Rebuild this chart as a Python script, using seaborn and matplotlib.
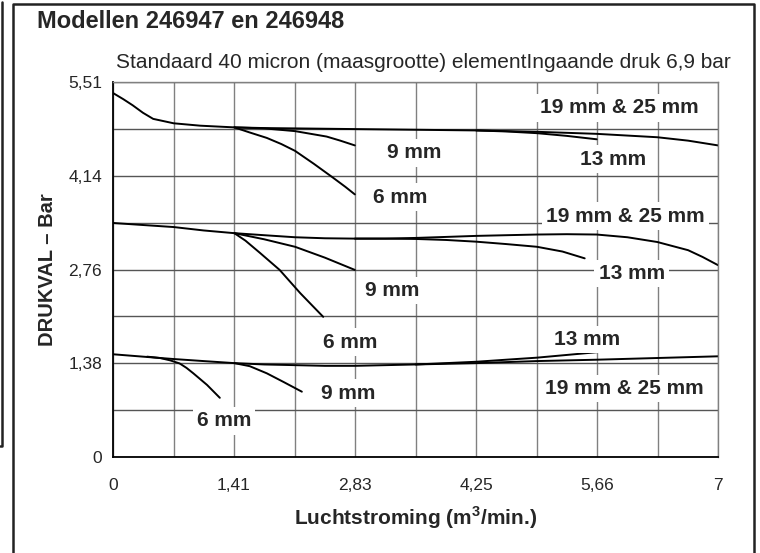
import matplotlib
matplotlib.use("Agg")
import matplotlib.pyplot as plt
import seaborn as sns
import pandas as pd
from matplotlib.lines import Line2D

# luchtstroming (m3/min) en drukval (bar), afgelezen uit de grafiek
# bovenste groep
boven_19_25_x = [0, 0.12, 0.23, 0.35, 0.47, 0.71, 1.02, 1.42, 1.77, 2.13, 2.83, 3.54, 4.25, 4.96, 5.66, 6.37, 6.73, 7.08]
boven_19_25_y = [5.35, 5.26, 5.17, 5.06, 4.97, 4.905, 4.87, 4.845, 4.835, 4.83, 4.82, 4.81, 4.80, 4.78, 4.75, 4.70, 4.65, 4.58]
boven_13_x = [4.25, 4.60, 4.96, 5.31, 5.66]
boven_13_y = [4.80, 4.785, 4.76, 4.72, 4.67]
boven_9_x = [1.42, 1.77, 2.13, 2.50, 2.66, 2.83]
boven_9_y = [4.845, 4.83, 4.79, 4.71, 4.65, 4.58]
boven_6_x = [1.42, 1.60, 1.80, 1.97, 2.13, 2.35, 2.57, 2.72, 2.83]
boven_6_y = [4.845, 4.77, 4.69, 4.60, 4.50, 4.31, 4.11, 3.97, 3.86]

# middelste groep
midden_19_25_x = [0, 0.35, 0.71, 1.06, 1.42, 1.77, 2.13, 2.48, 2.83, 3.19, 3.54, 3.90, 4.25, 4.60,
                  4.96, 5.31, 5.66, 6.02, 6.37, 6.73, 6.90, 7.08]
midden_19_25_y = [3.44, 3.41, 3.38, 3.33, 3.29, 3.26, 3.23, 3.215, 3.21, 3.21, 3.22, 3.235, 3.25, 3.26,
                  3.27, 3.275, 3.27, 3.23, 3.16, 3.04, 2.94, 2.82]
midden_13_x = [2.83, 3.19, 3.54, 3.90, 4.25, 4.60, 4.96, 5.26, 5.52]
midden_13_y = [3.21, 3.21, 3.205, 3.19, 3.165, 3.13, 3.09, 3.02, 2.92]
midden_9_x = [1.42, 1.77, 2.13, 2.48, 2.83]
midden_9_y = [3.29, 3.20, 3.09, 2.93, 2.75]
midden_6_x = [1.42, 1.55, 1.72, 1.95, 2.19, 2.46]
midden_6_y = [3.29, 3.18, 3.00, 2.75, 2.41, 2.06]

# onderste groep
onder_19_25_x = [0, 0.35, 0.71, 1.06, 1.42, 1.77, 2.13, 2.48, 2.83, 3.19, 3.54, 4.25, 4.96, 5.66, 6.37, 7.08]
onder_19_25_y = [1.51, 1.475, 1.44, 1.41, 1.38, 1.36, 1.35, 1.34, 1.34, 1.35, 1.36, 1.38, 1.41, 1.43, 1.455, 1.48]
onder_13_x = [3.54, 3.90, 4.25, 4.60, 4.96, 5.31, 5.66]
onder_13_y = [1.36, 1.38, 1.40, 1.43, 1.46, 1.50, 1.54]
onder_9_x = [1.42, 1.60, 1.80, 2.00, 2.21]
onder_9_y = [1.38, 1.335, 1.23, 1.10, 0.96]
onder_6_x = [0.40, 0.55, 0.67, 0.78, 0.86, 0.94, 1.10, 1.25]
onder_6_y = [1.475, 1.455, 1.42, 1.375, 1.31, 1.23, 1.06, 0.87]

x_ticks = [0, 1.416, 2.832, 4.248, 5.664, 7.08]
x_tick_labels = ["0", "1,41", "2,83", "4,25", "5,66", "7"]
y_ticks = [0, 1.378, 2.756, 4.134, 5.512]
y_tick_labels = ["0", "1,38", "2,76", "4,14", "5,51"]

curves = [
    (boven_19_25_x, boven_19_25_y), (boven_13_x, boven_13_y),
    (boven_9_x, boven_9_y), (boven_6_x, boven_6_y),
    (midden_19_25_x, midden_19_25_y), (midden_13_x, midden_13_y),
    (midden_9_x, midden_9_y), (midden_6_x, midden_6_y),
    (onder_19_25_x, onder_19_25_y), (onder_13_x, onder_13_y),
    (onder_9_x, onder_9_y), (onder_6_x, onder_6_y),
]

sns.set_style("white")
plt.rcParams["font.family"] = ["Liberation Sans", "DejaVu Sans"]
plt.rcParams["mathtext.fontset"] = "custom"
plt.rcParams["mathtext.bf"] = "Liberation Sans:bold"
plt.rcParams["mathtext.rm"] = "Liberation Sans:bold"

fig = plt.figure(figsize=(7.6, 5.53), dpi=100)
ax = fig.add_axes([113 / 760, 1 - 457 / 553, 605 / 760, 375 / 553])

for cx, cy in curves:
    df = pd.DataFrame({"x": cx, "y": cy})
    sns.lineplot(data=df, x="x", y="y", sort=False, color="black", linewidth=1.4, ax=ax)

ax.set_xlim(0, 7.08)
ax.set_ylim(0, 5.512)
ax.set_xticks(x_ticks)
ax.set_xticklabels(x_tick_labels, fontsize=12.5)
ax.set_xticks([0.708 * i for i in range(1, 10, 2)], minor=True)
ax.set_yticks(y_ticks)
ax.set_yticklabels(y_tick_labels, fontsize=12.5)
ax.set_yticks([0.689 * i for i in range(1, 8, 2)], minor=True)
ax.grid(which="both", axis="x", color="#808080", linewidth=1.0)
ax.grid(which="both", axis="y", color="#555555", linewidth=1.0)
ax.set_axisbelow(True)
ax.tick_params(axis="x", which="both", length=0, pad=15)
ax.tick_params(axis="y", which="major", length=0, pad=8)
ax.tick_params(axis="y", which="minor", length=0)
for side in ["top", "right"]:
    ax.spines[side].set_color("#808080")
    ax.spines[side].set_linewidth(1.0)
for side in ["left", "bottom"]:
    ax.spines[side].set_color("black")
    ax.spines[side].set_linewidth(1.3)

ax.set_xlabel("Luchtstroming (m$^{\\mathbf{3}}$/min.)", fontsize=15, fontweight="bold", labelpad=8)
ax.set_ylabel("DRUKVAL – Bar", fontsize=14.5, fontweight="bold", labelpad=8)

# labels bij de curves
label_box = dict(facecolor="white", edgecolor="none", pad=3)
for tx, ty, txt in [
    (5.93, 5.13, "19 mm & 25 mm"), (3.53, 4.47, "9 mm"), (5.85, 4.38, "13 mm"), (3.36, 3.82, "6 mm"),
    (6.00, 3.54, "19 mm & 25 mm"), (6.07, 2.70, "13 mm"), (3.27, 2.45, "9 mm"), (2.77, 1.69, "6 mm"),
    (5.55, 1.73, "13 mm"), (5.98, 1.01, "19 mm & 25 mm"), (2.75, 0.94, "9 mm"), (1.30, 0.53, "6 mm"),
]:
    ax.text(tx, ty, txt, ha="center", va="center", fontsize=15, fontweight="bold", bbox=label_box, zorder=3)

fig.text(37 / 760, 1 - 21 / 553, "Modellen 246947 en 246948", fontsize=17, fontweight="bold",
         ha="left", va="center")
fig.text(116 / 760, 1 - 63 / 553, "Standaard 40 micron (maasgrootte) elementIngaande druk 6,9 bar",
         fontsize=15, ha="left", va="center")

# kader rond het paneel en een stukje van het buurpaneel
fig.add_artist(Line2D([13 / 760, 13 / 760, 754 / 760, 754 / 760], [0, 1 - 4 / 553, 1 - 4 / 553, 0],
                      transform=fig.transFigure, color="#222222", linewidth=1.8))
fig.add_artist(Line2D([0, 2 / 760, 2 / 760], [1 - 446 / 553, 1 - 446 / 553, 1 - 2 / 553],
                      transform=fig.transFigure, color="#222222", linewidth=1.8))

fig.savefig("out.png", dpi=100)
